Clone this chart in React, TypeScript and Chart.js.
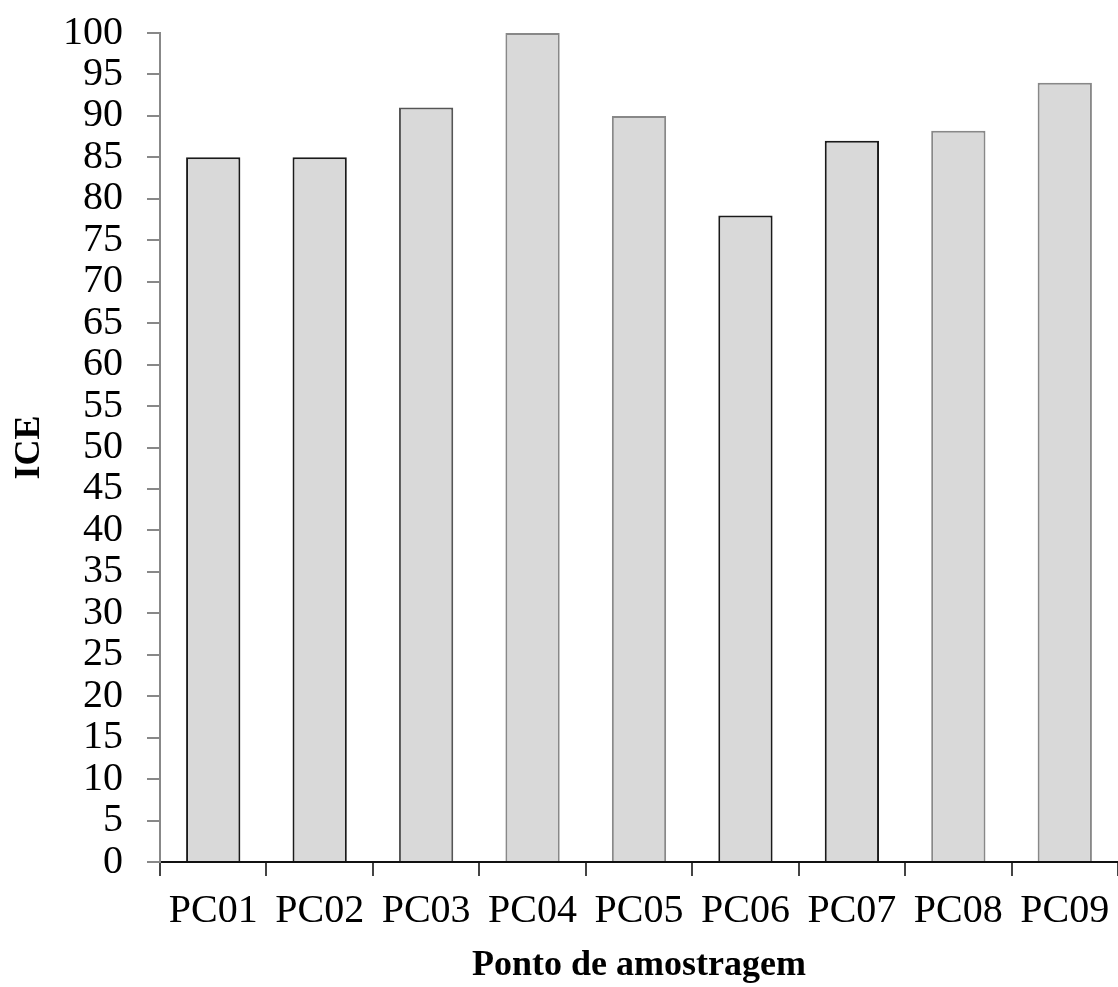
import React, { useEffect, useRef } from "react";
import { Chart, registerables } from "chart.js";

Chart.register(...registerables);

const categories = ["PC01", "PC02", "PC03", "PC04", "PC05", "PC06", "PC07", "PC08", "PC09"];
const iceValues = [85, 85, 91, 100, 90, 78, 87, 88.2, 94];
const barBorderColors = ["#1a1a1a", "#1a1a1a", "#555", "#888", "#888", "#1a1a1a", "#1a1a1a", "#888", "#888"];

const yAxisTitle = "ICE";
const xAxisTitle = "Ponto de amostragem";

const FONT = "'Liberation Serif', 'Times New Roman', serif";

export default function App() {
  const canvasRef = useRef<HTMLCanvasElement | null>(null);

  useEffect(() => {
    if (!canvasRef.current) return;
    const chart = new Chart(canvasRef.current, {
      type: "bar",
      data: {
        labels: categories,
        datasets: [
          {
            label: yAxisTitle,
            data: iceValues,
            backgroundColor: "#d9d9d9",
            borderColor: barBorderColors,
            borderWidth: 2,
            barPercentage: 0.51,
            categoryPercentage: 1,
          },
        ],
      },
      options: {
        animation: false,
        responsive: true,
        maintainAspectRatio: false,
        layout: { padding: { top: 33, right: 0, bottom: 0, left: 0 } },
        plugins: {
          legend: { display: false },
          tooltip: { enabled: false },
        },
        scales: {
          x: {
            afterFit: (s: any) => {
              s.height = 125;
              s.paddingLeft = 0;
              s.paddingRight = 0;
            },
            grid: {
              drawOnChartArea: false,
              drawTicks: true,
              tickLength: 14,
              color: "#444",
              lineWidth: 2,
              offset: true,
            },
            border: { display: true, color: "#111", width: 2 },
            ticks: {
              color: "#000",
              font: { family: FONT, size: 40 },
              padding: 11,
              maxRotation: 0,
              autoSkip: false,
            },
            title: {
              display: true,
              text: xAxisTitle,
              color: "#000",
              font: { family: FONT, size: 36, weight: "bold" },
              padding: { top: 0, bottom: 0 },
            },
          },
          y: {
            min: 0,
            max: 100,
            afterFit: (s: any) => {
              s.width = 160;
              s.paddingTop = 0;
              s.paddingBottom = 0;
            },
            grid: {
              drawOnChartArea: false,
              drawTicks: true,
              tickLength: 13,
              color: "#888",
              lineWidth: 2,
            },
            border: { display: true, color: "#888", width: 2 },
            ticks: {
              stepSize: 5,
              autoSkip: false,
              color: "#000",
              font: { family: FONT, size: 40 },
              padding: 24,
            },
            title: {
              display: true,
              text: yAxisTitle,
              color: "#000",
              font: { family: FONT, size: 36, weight: "bold" },
              padding: { top: 8, bottom: 0 },
            },
          },
        },
      },
    });
    return () => chart.destroy();
  }, []);

  return (
    <div style={{ position: "fixed", left: 0, top: 0, width: 1118, height: 987, background: "#fff" }}>
      <canvas ref={canvasRef} />
    </div>
  );
}
